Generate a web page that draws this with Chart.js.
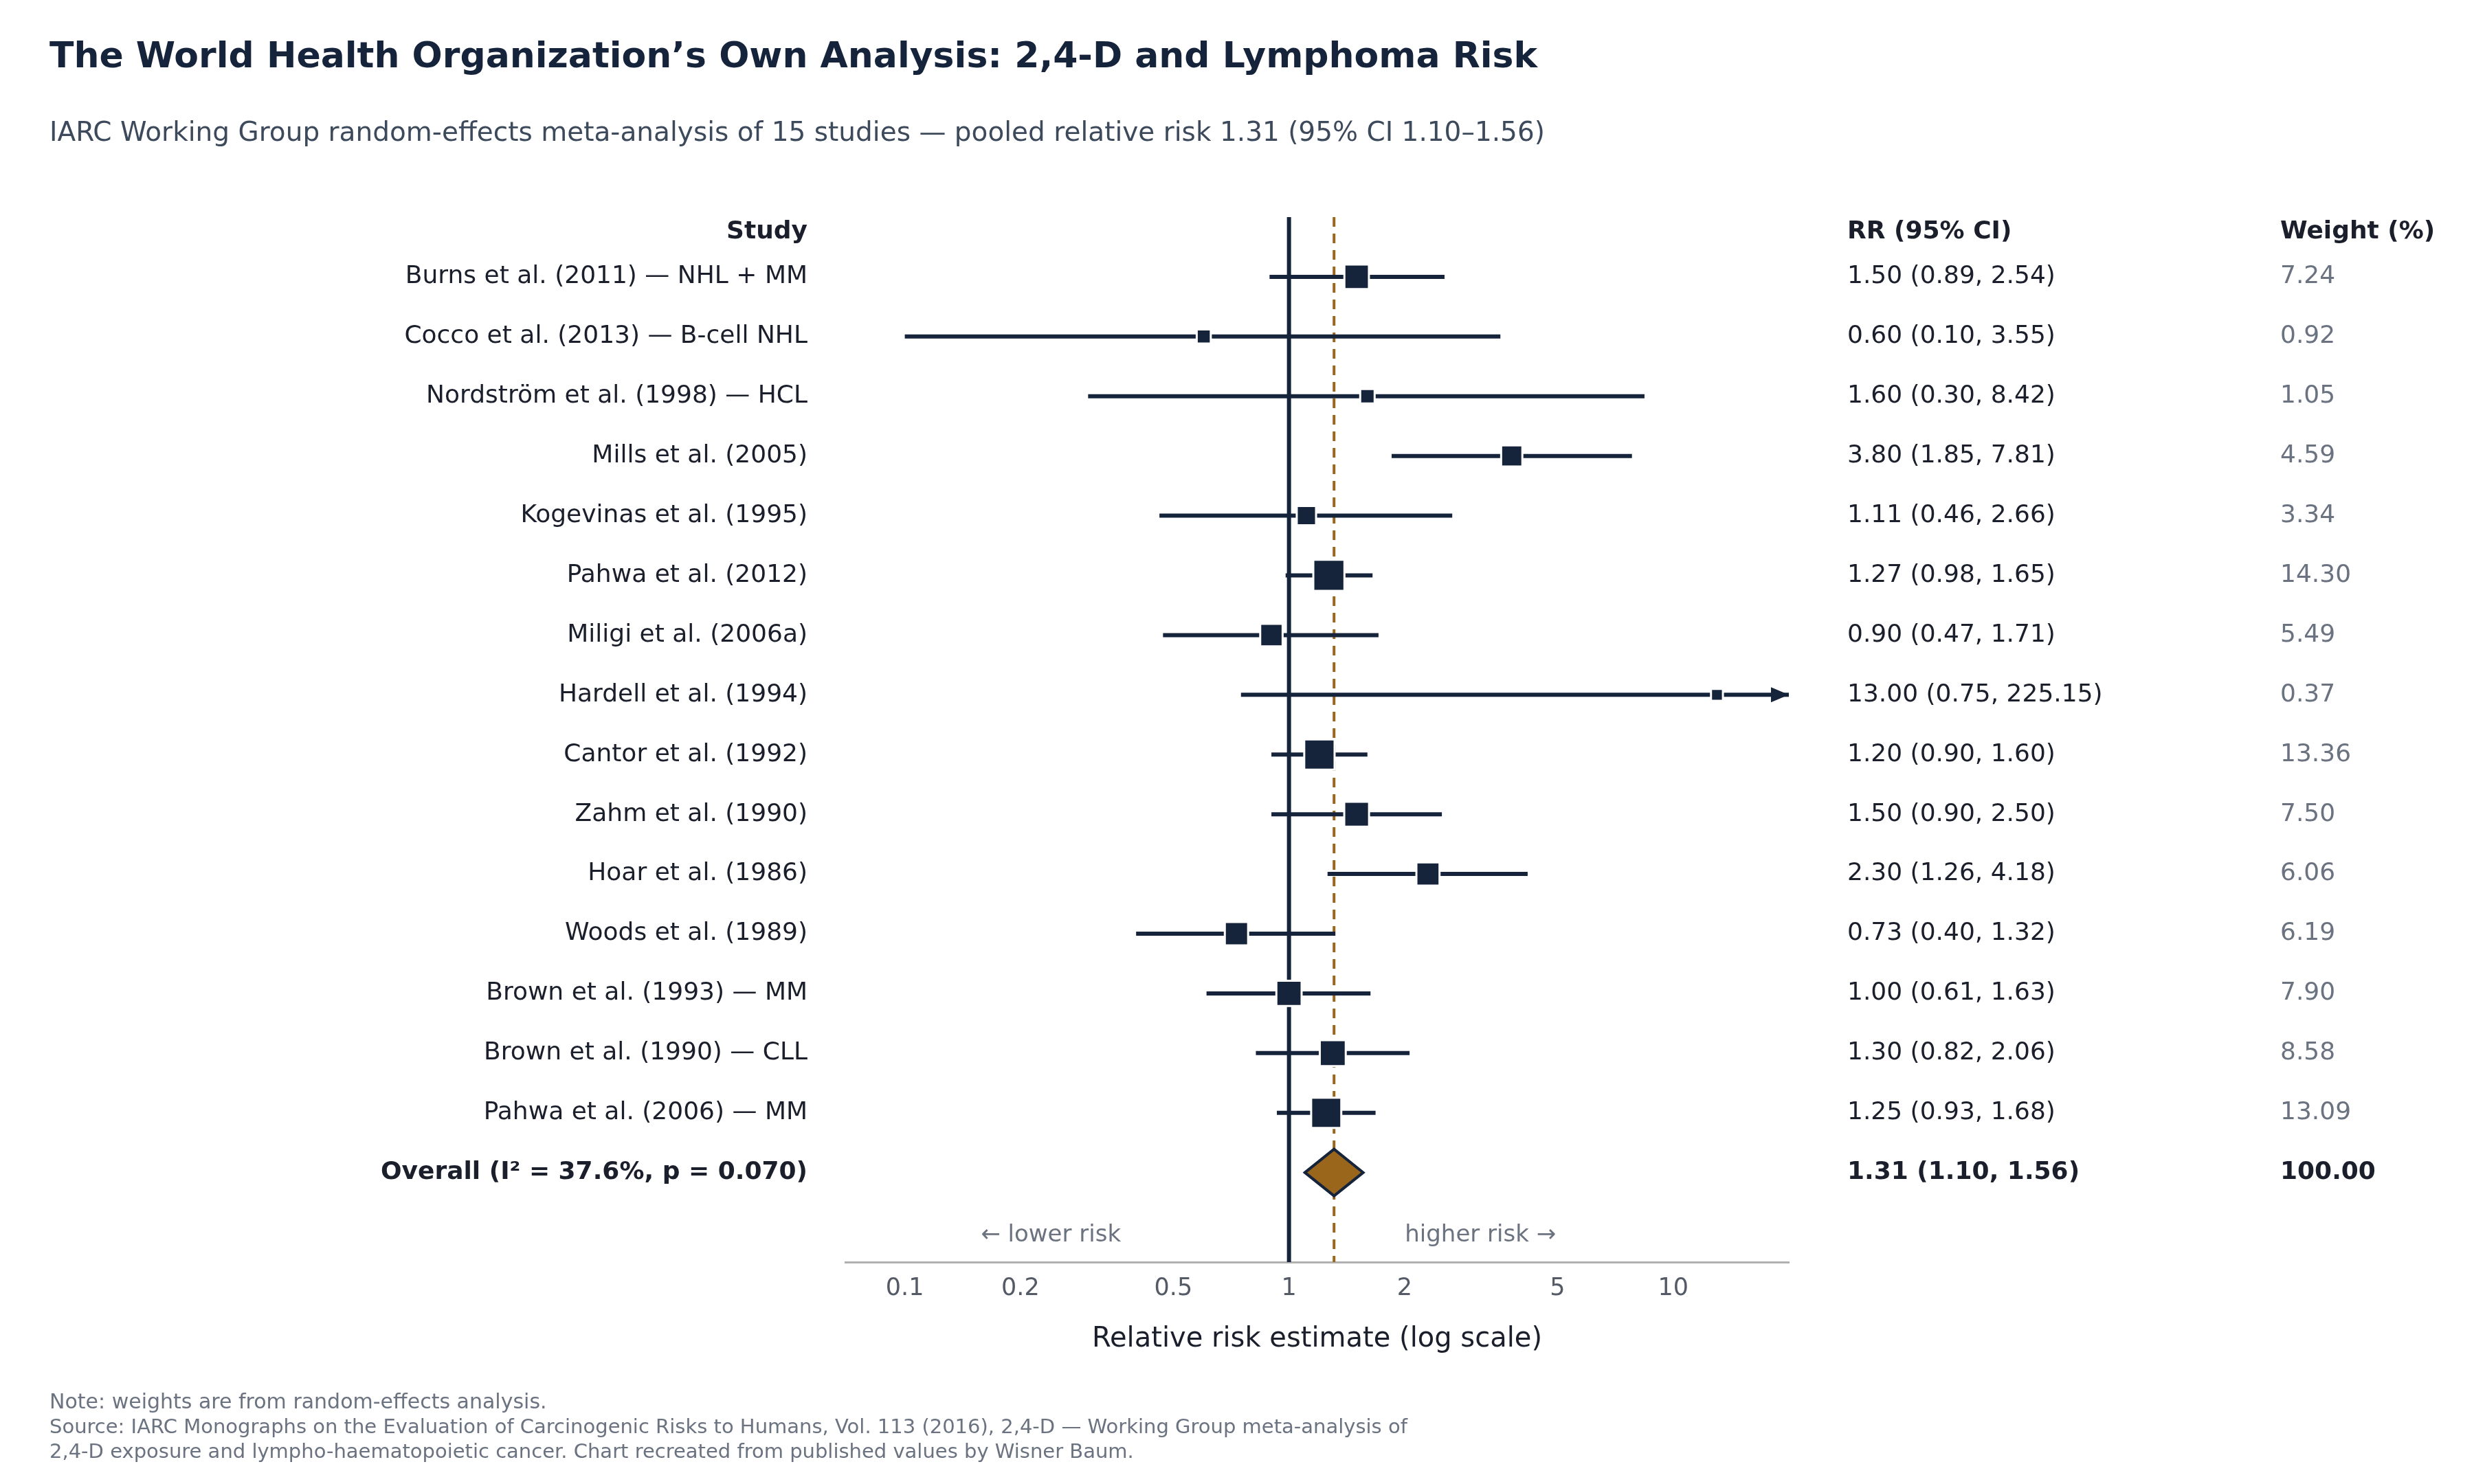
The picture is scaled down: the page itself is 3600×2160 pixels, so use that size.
<!DOCTYPE html>
<html>
<head>
<meta charset="utf-8">
<script src="https://cdn.jsdelivr.net/npm/chart.js@4/dist/chart.umd.min.js"></script>
<style>
  html, body { margin: 0; padding: 0; background: #fff; }
  #wrap { width: 3600px; height: 2160px; }
</style>
</head>
<body>
<div id="wrap"><canvas id="forest" width="3600" height="2160"></canvas></div>
<script>
// Study data
const studies = [
    'Burns et al. (2011) — NHL + MM',
    'Cocco et al. (2013) — B-cell NHL',
    'Nordström et al. (1998) — HCL',
    'Mills et al. (2005)',
    'Kogevinas et al. (1995)',
    'Pahwa et al. (2012)',
    'Miligi et al. (2006a)',
    'Hardell et al. (1994)',
    'Cantor et al. (1992)',
    'Zahm et al. (1990)',
    'Hoar et al. (1986)',
    'Woods et al. (1989)',
    'Brown et al. (1993) — MM',
    'Brown et al. (1990) — CLL',
    'Pahwa et al. (2006) — MM'
];
const rr = [1.50, 0.60, 1.60, 3.80, 1.11, 1.27, 0.90, 13.00, 1.20, 1.50, 2.30, 0.73, 1.00, 1.30, 1.25];
const ciLow = [0.89, 0.10, 0.30, 1.85, 0.46, 0.98, 0.47, 0.75, 0.90, 0.90, 1.26, 0.40, 0.61, 0.82, 0.93];
const ciHigh = [2.54, 3.55, 8.42, 7.81, 2.66, 1.65, 1.71, 225.15, 1.60, 2.50, 4.18, 1.32, 1.63, 2.06, 1.68];
const weights = [7.24, 0.92, 1.05, 4.59, 3.34, 14.30, 5.49, 0.37, 13.36, 7.50, 6.06, 6.19, 7.90, 8.58, 13.09];

const overallLabel = 'Overall (I² = 37.6%, p = 0.070)';
const overallRR = 1.31;
const overallLow = 1.10;
const overallHigh = 1.56;

const xTicks = [0.1, 0.2, 0.5, 1, 2, 5, 10];
const xTickLabels = ['0.1', '0.2', '0.5', '1', '2', '5', '10'];

const NAVY = '#15233b';
const BROWN = '#9a661c';
const GREY = '#6b7280';
const X_MIN = 0.07, X_MAX = 20;

const fmt = v => v.toFixed(2);

// one line dataset per confidence interval
const ciSets = studies.map((s, i) => ({
    type: 'line',
    data: [{ x: Math.max(ciLow[i], X_MIN), y: i }, { x: Math.min(ciHigh[i], X_MAX), y: i }],
    borderColor: NAVY,
    borderWidth: 6,
    pointRadius: 0,
    order: 3
}));

const refLines = [
    {
        type: 'line',
        data: [{ x: 1, y: -1 }, { x: 1, y: 16.5 }],
        borderColor: NAVY, borderWidth: 6, pointRadius: 0, order: 4
    },
    {
        type: 'line',
        data: [{ x: overallRR, y: -1 }, { x: overallRR, y: 16.5 }],
        borderColor: BROWN, borderWidth: 4, borderDash: [14, 10], pointRadius: 0, order: 5
    }
];

const pointSet = {
    type: 'scatter',
    data: rr.map((v, i) => ({ x: v, y: i })),
    pointStyle: 'rect',
    pointRadius: weights.map(w => (6 + 4.4 * Math.sqrt(w)) / Math.SQRT1_2),
    backgroundColor: NAVY,
    borderColor: '#ffffff',
    borderWidth: 3,
    order: 1
};

const textPlugin = {
    id: 'forestText',
    afterDatasetsDraw(chart) {
        const { ctx, chartArea, scales } = chart;
        const xs = scales.x, ys = scales.y;
        ctx.save();

        // overall diamond
        const yo = ys.getPixelForValue(studies.length);
        ctx.beginPath();
        ctx.moveTo(xs.getPixelForValue(overallLow), yo);
        ctx.lineTo(xs.getPixelForValue(overallRR), yo - 34);
        ctx.lineTo(xs.getPixelForValue(overallHigh), yo);
        ctx.lineTo(xs.getPixelForValue(overallRR), yo + 34);
        ctx.closePath();
        ctx.fillStyle = BROWN;
        ctx.fill();
        ctx.lineWidth = 4;
        ctx.strokeStyle = NAVY;
        ctx.stroke();

        // arrow for clipped interval
        ciHigh.forEach((h, i) => {
            if (h <= X_MAX) return;
            const y = ys.getPixelForValue(i);
            const x = chartArea.right;
            ctx.beginPath();
            ctx.moveTo(x, y);
            ctx.lineTo(x - 26, y - 11);
            ctx.lineTo(x - 26, y + 11);
            ctx.closePath();
            ctx.fillStyle = NAVY;
            ctx.fill();
        });

        ctx.textBaseline = 'middle';
        const labelX = 1175, rrX = 2688, wX = 3318;
        const fontN = '36px "DejaVu Sans"';
        const fontB = 'bold 36px "DejaVu Sans"';

        // headers
        const yh = ys.getPixelForValue(-0.75);
        ctx.font = fontB;
        ctx.fillStyle = '#1a1f2b';
        ctx.textAlign = 'right';
        ctx.fillText('Study', labelX, yh);
        ctx.textAlign = 'left';
        ctx.fillText('RR (95% CI)', rrX, yh);
        ctx.fillText('Weight (%)', wX, yh);

        studies.forEach((s, i) => {
            const y = ys.getPixelForValue(i);
            ctx.font = fontN;
            ctx.fillStyle = '#1a1f2b';
            ctx.textAlign = 'right';
            ctx.fillText(s, labelX, y);
            ctx.textAlign = 'left';
            ctx.fillText(`${fmt(rr[i])} (${fmt(ciLow[i])}, ${fmt(ciHigh[i])})`, rrX, y);
            ctx.fillStyle = GREY;
            ctx.fillText(fmt(weights[i]), wX, y);
        });

        ctx.font = fontB;
        ctx.fillStyle = '#1a1f2b';
        ctx.textAlign = 'right';
        ctx.fillText(overallLabel, labelX, yo);
        ctx.textAlign = 'left';
        ctx.fillText(`${fmt(overallRR)} (${fmt(overallLow)}, ${fmt(overallHigh)})`, rrX, yo);
        ctx.fillText('100.00', wX, yo);

        // direction hints
        const yd = ys.getPixelForValue(16.05);
        ctx.font = '34px "DejaVu Sans"';
        ctx.fillStyle = GREY;
        ctx.textAlign = 'center';
        ctx.fillText('← lower risk', xs.getPixelForValue(0.24), yd);
        ctx.fillText('higher risk →', xs.getPixelForValue(3.15), yd);

        // title, subtitle, notes
        ctx.textAlign = 'left';
        ctx.textBaseline = 'alphabetic';
        ctx.fillStyle = '#15233b';
        ctx.font = 'bold 52px "DejaVu Sans"';
        ctx.fillText('The World Health Organization’s Own Analysis: 2,4-D and Lymphoma Risk', 72, 98);
        ctx.fillStyle = '#3d4a5c';
        ctx.font = '39px "DejaVu Sans"';
        ctx.fillText('IARC Working Group random-effects meta-analysis of 15 studies — pooled relative risk 1.31 (95% CI 1.10–1.56)', 72, 205);

        ctx.fillStyle = '#1a1f2b';
        ctx.font = '40px "DejaVu Sans"';
        ctx.textAlign = 'center';
        ctx.fillText('Relative risk estimate (log scale)', (chartArea.left + chartArea.right) / 2, 1960);

        ctx.textAlign = 'left';
        ctx.fillStyle = GREY;
        ctx.font = '30px "DejaVu Sans"';
        ctx.fillText('Note: weights are from random-effects analysis.', 72, 2050);
        ctx.font = '29px "DejaVu Sans"';
        ctx.fillText('Source: IARC Monographs on the Evaluation of Carcinogenic Risks to Humans, Vol. 113 (2016), 2,4-D — Working Group meta-analysis of', 72, 2086);
        ctx.fillText('2,4-D exposure and lympho-haematopoietic cancer. Chart recreated from published values by Wisner Baum.', 72, 2122);
        ctx.restore();
    }
};

new Chart(document.getElementById('forest'), {
    data: { datasets: [...ciSets, ...refLines, pointSet] },
    options: {
        responsive: false,
        animation: false,
        devicePixelRatio: 1,
        layout: { padding: { left: 1230, right: 997, top: 316, bottom: 255 } },
        plugins: { legend: { display: false }, tooltip: { enabled: false } },
        scales: {
            x: {
                type: 'logarithmic',
                min: X_MIN,
                max: X_MAX,
                afterBuildTicks: axis => { axis.ticks = xTicks.map(v => ({ value: v })); },
                ticks: {
                    color: '#555b66',
                    font: { family: 'DejaVu Sans', size: 35 },
                    padding: 8,
                    autoSkip: false,
                    maxRotation: 0,
                    callback: (v) => xTickLabels[xTicks.indexOf(v)] ?? ''
                },
                grid: { display: false, drawTicks: true, tickLength: 10, tickColor: '#999' },
                border: { color: '#b0b0b0', width: 3 }
            },
            y: {
                type: 'linear',
                reverse: true,
                min: -1,
                max: 16.5,
                display: false
            }
        }
    },
    plugins: [textPlugin]
});
</script>
</body>
</html>
